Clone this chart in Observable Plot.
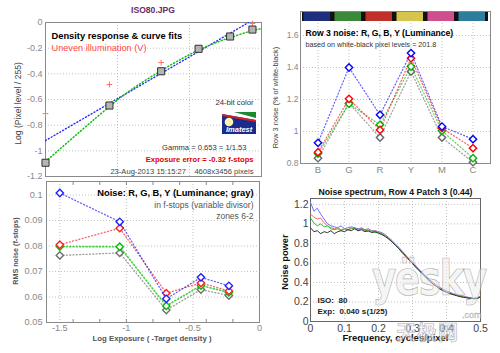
<!DOCTYPE html>
<html><head><meta charset="utf-8">
<script src="https://cdn.jsdelivr.net/npm/d3@7"></script>
<script src="https://cdn.jsdelivr.net/npm/@observablehq/plot@0.6"></script>
<style>
body{margin:0;background:#fff;font-family:"Liberation Sans",Arial,sans-serif;}
#root{position:relative;width:500px;height:353px;overflow:hidden;background:#fff;}
.abs{position:absolute;white-space:nowrap;}
</style></head><body><div id="root"></div>
<script>
// ---------- data ----------
// Density response (top-left)
const densX = [-1.5, -1.056, -0.697, -0.437, -0.218, -0.063];
const densY = [-1.093, -0.647, -0.38, -0.205, -0.109, -0.055];
const unevenX = [-1.5, -1.056, -0.697, -0.063];
const unevenY = [-0.71, -0.483, -0.312, -0.008];
const fitLinX = [-1.5, -0.09];
const fitLinY = [-0.92, 0];
const fitCurveX = [-1.5, -1.25, -1.056, -0.9, -0.697, -0.55, -0.437, -0.3, -0.218, -0.1, 0];
const fitCurveY = [-1.083, -0.84, -0.655, -0.52, -0.375, -0.28, -0.215, -0.15, -0.118, -0.075, -0.047];
const densTicksY = [-1.2, -1, -0.8, -0.6, -0.4, -0.2, 0];
const densGridX = [-1, -0.5];

// Row 3 noise (top-right)
const cats = ["B", "G", "R", "Y", "M", "C"];
const catColors = ["#1d2f7d", "#3b8a3b", "#c13129", "#d5c54d", "#cf4f8e", "#2d7d9d"];
const row3Blue  = [0.929, 1.40, 1.104, 1.49, 1.031, 0.952];
const row3Red   = [0.871, 1.204, 1.01, 1.458, 1.021, 0.896];
const row3Green = [0.862, 1.173, 1.042, 1.406, 1.004, 0.833];
const row3Gray  = [0.833, 1.177, 0.962, 1.375, 0.962, 0.808];
const row3Ticks = [0.8, 1, 1.2, 1.4, 1.6];

// RMS noise in f-stops (bottom-left)
const zoneX = [-1.5, -1.05, -0.70, -0.44, -0.23];
const rmsBlue  = [0.1008, 0.0895, 0.0593, 0.0677, 0.0644];
const rmsRed   = [0.0805, 0.0870, 0.0615, 0.0655, 0.0624];
const rmsGreen = [0.0798, 0.0797, 0.0565, 0.0645, 0.0618];
const rmsGray  = [0.0763, 0.0773, 0.0549, 0.0629, 0.0606];
const rmsTicksY = [0.05, 0.06, 0.07, 0.08, 0.09, 0.1];
const rmsTicksX = [-1.5, -1, -0.5, 0];
const rmsMinorX = [-1.4, -1.2, -1, -0.8, -0.6, -0.4, -0.2];

// Noise spectrum (bottom-right)
const freq = [0,0.01,0.02,0.03,0.04,0.05,0.06,0.07,0.08,0.09,
  0.10,0.11,0.12,0.13,0.14,0.15,0.16,0.17,0.18,0.19,
  0.20,0.21,0.22,0.23,0.24,0.25,0.26,0.27,0.28,0.29,
  0.30,0.31,0.32,0.33,0.34,0.35,0.36,0.37,0.38,0.39,
  0.40,0.41,0.42,0.43,0.44,0.45,0.46,0.47,0.48,0.49,0.50];
const specBlue = [1.22,1.13,1.16,1.10,1.05,1.00,0.98,0.97,0.96,0.98,
  0.95,0.96,0.97,0.96,0.95,0.96,0.94,0.95,0.93,0.93,
  0.92,0.91,0.89,0.86,0.83,0.79,0.76,0.72,0.68,0.64,
  0.61,0.57,0.53,0.50,0.46,0.43,0.40,0.375,0.35,0.33,
  0.315,0.30,0.285,0.275,0.265,0.26,0.25,0.245,0.24,0.245,0.26];
const specRed = [1.10,1.07,1.05,1.06,1.01,0.98,0.96,0.95,0.96,0.94,
  0.95,0.94,0.96,0.95,0.94,0.95,0.93,0.94,0.92,0.93,
  0.915,0.90,0.88,0.85,0.82,0.79,0.75,0.71,0.675,0.635,
  0.60,0.565,0.525,0.49,0.455,0.42,0.39,0.365,0.34,0.32,
  0.305,0.29,0.28,0.27,0.26,0.253,0.247,0.242,0.237,0.24,0.255];
const specGreen = [1.06,1.01,0.98,1.00,0.97,0.98,0.95,0.94,0.95,0.93,
  0.95,0.94,0.95,0.96,0.93,0.95,0.94,0.92,0.93,0.91,
  0.91,0.895,0.875,0.845,0.815,0.78,0.745,0.705,0.665,0.63,
  0.595,0.555,0.52,0.485,0.45,0.415,0.385,0.36,0.335,0.315,
  0.30,0.285,0.275,0.265,0.255,0.248,0.243,0.238,0.232,0.235,0.25];
const specBlack = [0.96,0.92,0.93,0.90,0.92,0.91,0.93,0.90,0.92,0.93,
  0.92,0.94,0.93,0.95,0.93,0.94,0.92,0.93,0.91,0.92,
  0.905,0.89,0.87,0.845,0.815,0.78,0.745,0.705,0.67,0.63,
  0.595,0.555,0.52,0.485,0.45,0.415,0.385,0.36,0.335,0.315,
  0.30,0.285,0.275,0.265,0.255,0.248,0.243,0.238,0.233,0.235,0.25];
const specTicksX = [0, 0.1, 0.2, 0.3, 0.4, 0.5];
const specTicksY = [0, 0.2, 0.4, 0.6, 0.8, 1, 1.2];

// ---------- helpers ----------
const root = document.getElementById("root");
const FONT = "'Liberation Sans', Arial, sans-serif";
const baseStyle = {fontFamily: FONT, fontSize: "8px", color: "#777", background: "transparent", overflow: "visible"};
const grid = {stroke: "#aaa", strokeOpacity: 0.7, strokeDasharray: "1,2"};
const frameColor = "#8a8a8a";
const DOT = "1,2.3";
const fmt = d => String(d);
const txt = (s, o) => Plot.text([s], {text: d => d, fontFamily: FONT, ...o});
const zip = (xs, ys) => xs.map((x, i) => ({x, y: ys[i]}));
function place(el, left, top) {
  el.style.position = "absolute"; el.style.left = left + "px"; el.style.top = top + "px";
  root.appendChild(el);
}

// ---------- panel 1: density response ----------
const p1 = Plot.plot({
  width: 270, height: 186, marginLeft: 45, marginRight: 9, marginTop: 22, marginBottom: 10,
  x: {domain: [-1.5, 0], axis: null},
  y: {domain: [-1.2, 0], axis: null},
  style: baseStyle,
  marks: [
    Plot.gridX(densGridX, grid),
    Plot.gridY(densTicksY, grid),
    Plot.frame({stroke: frameColor}),
    Plot.axisY(densTicksY, {anchor: "left", tickSize: 0, tickPadding: 3, tickFormat: fmt, fontSize: 9, fill: "#888", label: null}),
    Plot.line(zip(fitLinX, fitLinY), {x: "x", y: "y", stroke: "#2a2aff", strokeWidth: 1.4, strokeDasharray: DOT, clip: true}),
    Plot.line(zip(fitCurveX, fitCurveY), {x: "x", y: "y", curve: "natural", stroke: "#10c010", strokeWidth: 1.5, strokeDasharray: DOT, clip: true}),
    Plot.dot(zip(unevenX, unevenY), {x: "x", y: "y", symbol: "plus", r: 2, stroke: "#ff7070", strokeWidth: 1}),
    Plot.dot(zip(densX, densY), {x: "x", y: "y", symbol: "square", r: 4, fill: "#b4b4b4", stroke: "#333", strokeWidth: 1}),
    txt("Density response & curve fits", {frameAnchor: "top-left", dx: 6, dy: 10, textAnchor: "start", fontWeight: "bold", fontSize: 9.3, fill: "#000"}),
    txt("Uneven illumination (V)", {frameAnchor: "top-left", dx: 6, dy: 22, textAnchor: "start", fontSize: 9.2, fill: "#ff4a4a"}),
    txt("24-bit color", {frameAnchor: "top-right", dx: -8, dy: 77, textAnchor: "end", fontSize: 7.7, fill: "#333"}),
    txt("Gamma = 0.653 = 1/1.53", {frameAnchor: "top-right", dx: -15, dy: 122, textAnchor: "end", fontSize: 7.6, fill: "#333"}),
    txt("Exposure error = -0.32 f-stops", {frameAnchor: "top-right", dx: -8, dy: 134, textAnchor: "end", fontSize: 7.6, fontWeight: "bold", fill: "#e00000"}),
    txt("23-Aug-2013 15:15:27    4608x3456 pixels", {frameAnchor: "top-right", dx: -8, dy: 146, textAnchor: "end", fontSize: 7.6, fill: "#444", style: "white-space:pre"}),
    txt("Log (Pixel level / 255)", {frameAnchor: "left", dx: -27, dy: 4, rotate: -90, textAnchor: "middle", fontSize: 8.6, fill: "#444"})
  ]
});
place(p1, 0, 0);

// ---------- panel 2: row 3 noise ----------
const row3Series = [
  {v: row3Gray, c: "#666"}, {v: row3Green, c: "#00b400"}, {v: row3Red, c: "#ff0000"}, {v: row3Blue, c: "#0000ff"}
];
const y2Top = 1.75, barBottom = 1.6875;
const p2 = Plot.plot({
  width: 250, height: 180, marginLeft: 50, marginRight: 10, marginTop: 11, marginBottom: 17,
  x: {type: "band", domain: cats, padding: 0, axis: null},
  y: {domain: [0.8, y2Top], axis: null},
  color: {type: "identity"},
  style: baseStyle,
  marks: [
    Plot.gridY(row3Ticks, grid),
    Plot.gridX(cats, grid),
    Plot.barY(cats, {x: d => d, y1: barBottom, y2: y2Top, fill: "#111"}),
    Plot.barY(cats, {x: d => d, y1: barBottom, y2: y2Top, fill: (d, i) => catColors[i], insetLeft: 1.5, insetRight: 3}),
    Plot.frame({stroke: frameColor}),
    Plot.axisY(row3Ticks, {anchor: "left", tickSize: 0, tickPadding: 2, tickFormat: fmt, fontSize: 8.5, fill: "#888", label: null}),
    Plot.axisX(cats, {anchor: "bottom", tickSize: 0, tickPadding: 3, fontSize: 9.5, fill: "#888", label: null}),
    ...row3Series.flatMap(s => {
      const d = cats.map((c, i) => ({x: c, y: s.v[i]}));
      return [
        Plot.line(d, {x: "x", y: "y", stroke: s.c, strokeOpacity: 0.6, strokeWidth: 1.3, strokeDasharray: DOT}),
        Plot.dot(d, {x: "x", y: "y", symbol: "diamond2", r: 3.3, stroke: s.c, strokeWidth: 1.4, fill: "white"})
      ];
    }),
    txt("Row 3 noise: R, G, B, Y (Luminance)", {frameAnchor: "top-left", dx: 5, dy: 18, textAnchor: "start", fontWeight: "bold", fontSize: 8.6, fill: "#000"}),
    txt("based on white-black pixel levels = 201.8", {frameAnchor: "top-left", dx: 5, dy: 30, textAnchor: "start", fontSize: 7.2, fill: "#333"}),
    txt("Row 3 noise (% of white-black)", {frameAnchor: "left", dx: -25, dy: 10, rotate: -90, textAnchor: "middle", fontSize: 7.4, fill: "#444"})
  ]
});
place(p2, 250, 0);

// ---------- panel 3: RMS noise ----------
const rmsSeries = [
  {v: rmsGray, c: "#707070", w: 1.3}, {v: rmsGreen, c: "#00c000", w: 1.7}, {v: rmsRed, c: "#ff2020", w: 1.3}, {v: rmsBlue, c: "#2020ff", w: 1.3}
];
const p3 = Plot.plot({
  width: 270, height: 177, marginLeft: 46, marginRight: 11, marginTop: 5, marginBottom: 31,
  x: {domain: [-1.6, 0], axis: null},
  y: {domain: [0.05, 0.1053], axis: null},
  style: baseStyle,
  marks: [
    Plot.gridX([-1.5, -1, -0.5], grid),
    Plot.gridY(rmsTicksY, grid),
    Plot.frame({stroke: frameColor}),
    Plot.axisY(rmsTicksY, {anchor: "left", tickSize: 0, tickPadding: 4, tickFormat: fmt, fontSize: 9.2, fill: "#888", label: null}),
    Plot.axisX(rmsTicksX, {anchor: "bottom", tickSize: 0, tickPadding: 2, tickFormat: fmt, fontSize: 9.2, fill: "#888", label: null}),
    Plot.axisX(rmsMinorX, {anchor: "bottom", tickSize: -3, tickFormat: () => "", stroke: "#888", label: null}),
    Plot.axisX(rmsMinorX, {anchor: "top", tickSize: -3, tickFormat: () => "", stroke: "#888", label: null}),
    ...rmsSeries.flatMap(s => {
      const d = zip(zoneX, s.v);
      return [
        Plot.line(d, {x: "x", y: "y", stroke: s.c, strokeOpacity: 0.7, strokeWidth: s.w, strokeDasharray: DOT}),
        Plot.dot(d, {x: "x", y: "y", symbol: "diamond2", r: 3.3, stroke: s.c, strokeWidth: 1.4, fill: "white"})
      ];
    }),
    txt("Noise: R, G, B, Y (Luminance; gray)", {frameAnchor: "top-right", dx: -6, dy: 8, textAnchor: "end", fontWeight: "bold", fontSize: 9.3, fill: "#000"}),
    txt("in f-stops (variable divisor)", {frameAnchor: "top-right", dx: -6, dy: 20, textAnchor: "end", fontSize: 8.5, fill: "#555"}),
    txt("zones 6-2", {frameAnchor: "top-right", dx: -6, dy: 31, textAnchor: "end", fontSize: 8.5, fill: "#555"}),
    txt("RMS noise (f-stops)", {frameAnchor: "left", dx: -31, dy: -1, rotate: -90, textAnchor: "middle", fontSize: 7.2, fontWeight: "bold", fill: "#555"}),
    txt("Log Exposure ( -Target density )", {frameAnchor: "bottom", dx: -1, dy: 18, textAnchor: "middle", fontSize: 7.8, fontWeight: "bold", fill: "#555"})
  ]
});
place(p3, 0, 176);

// ---------- panel 4: noise spectrum ----------
const specSeries = [
  {v: specBlue, c: "#6f6fff"}, {v: specRed, c: "#ff6a6a"}, {v: specGreen, c: "#22cc22"}, {v: specBlack, c: "#333"}
];
const p4 = Plot.plot({
  width: 250, height: 177, marginLeft: 60, marginRight: 20, marginTop: 22, marginBottom: 32,
  x: {domain: [0, 0.5], axis: null},
  y: {domain: [0, 1.26], axis: null},
  style: baseStyle,
  marks: [
    Plot.gridX(specTicksX, grid),
    Plot.gridY(specTicksY, grid),
    Plot.frame({stroke: "#666"}),
    Plot.axisY(specTicksY, {anchor: "left", tickSize: 0, tickPadding: 2, tickFormat: fmt, fontSize: 10.5, fill: "#444", label: null}),
    Plot.axisX(specTicksX, {anchor: "bottom", tickSize: 0, tickPadding: 3, tickFormat: fmt, fontSize: 10.5, fill: "#444", label: null}),
    ...specSeries.map(s => Plot.line(zip(freq, s.v), {x: "x", y: "y", stroke: s.c, strokeWidth: 1})),
    txt("Noise spectrum, Row 4 Patch 3 (0.44)", {frameAnchor: "top", dy: -10, textAnchor: "middle", fontWeight: "bold", fontSize: 8.7, fill: "#111"}),
    txt("Noise power", {frameAnchor: "left", dx: -25, dy: 2, rotate: -90, textAnchor: "middle", fontWeight: "bold", fontSize: 9.3, fill: "#111"}),
    txt("Frequency, cycles/pixel", {frameAnchor: "bottom", dy: 19, textAnchor: "middle", fontWeight: "bold", fontSize: 9.5, fill: "#111"}),
    txt("ISO:", {frameAnchor: "bottom-left", dx: 7, dy: -19, textAnchor: "start", fontWeight: "bold", fontSize: 8, fill: "#222"}),
    txt("80", {frameAnchor: "bottom-left", dx: 28, dy: -19, textAnchor: "start", fontWeight: "bold", fontSize: 8, fill: "#222"}),
    txt("Exp:", {frameAnchor: "bottom-left", dx: 7, dy: -8, textAnchor: "start", fontWeight: "bold", fontSize: 8, fill: "#222"}),
    txt("0.040 s", {frameAnchor: "bottom-left", dx: 29, dy: -8, textAnchor: "start", fontWeight: "bold", fontSize: 8, fill: "#222"}),
    txt("(1/25)", {frameAnchor: "bottom-left", dx: 56, dy: -8, textAnchor: "start", fontWeight: "bold", fontSize: 8, fill: "#222"})
  ]
});
place(p4, 250, 176);

// ---------- title, logo, watermark ----------
const title = document.createElement("div");
title.className = "abs";
title.textContent = "ISO80.JPG";
title.style.cssText = "position:absolute;left:103px;top:5px;width:100px;text-align:center;font:bold 8.6px 'Liberation Sans',Arial,sans-serif;color:#6a2a6a;";
root.appendChild(title);

const logo = document.createElement("div");
logo.className = "abs";
logo.style.left = "222px"; logo.style.top = "112px";
logo.innerHTML = `<svg width="34" height="22" viewBox="0 0 34 22">
<rect width="34" height="22" fill="#1c2a8c"/>
<polygon points="12,0 34,0 34,6" fill="#1c8a2a"/>
<polygon points="0,0 12,0 34,6 34,8 0,2" fill="#ffffff"/>
<polygon points="0,2 34,8 34,10 0,4" fill="#d42020"/>
<circle cx="7" cy="10" r="4.3" fill="#fbf5b0"/>
<text x="4" y="20" fill="#fff" font-family="Liberation Sans, Arial" font-size="7.5" font-style="italic" font-weight="bold">Imatest</text>
</svg>`;
root.appendChild(logo);

const wm = document.createElement("div");
wm.className = "abs";
wm.style.cssText = "position:absolute;left:372px;top:254px;font:bold 48px 'DejaVu Sans',sans-serif;line-height:1;color:rgba(236,236,236,0.5);-webkit-text-stroke:0.7px rgba(150,150,150,0.75);letter-spacing:-2px;transform:scaleX(0.78);transform-origin:0 0;pointer-events:none;";
wm.textContent = "yësky";
root.appendChild(wm);
const wm2 = document.createElement("div");
wm2.className = "abs";
wm2.style.cssText = "position:absolute;left:462px;top:310px;font:9px 'Liberation Sans',sans-serif;color:rgba(236,236,236,0.6);-webkit-text-stroke:0.4px rgba(150,150,150,0.8);";
wm2.textContent = ".com";
root.appendChild(wm2);
const wm3 = document.createElement("div");
wm3.className = "abs";
wm3.style.cssText = "position:absolute;left:396px;top:320px;font:bold 20px 'Noto Sans CJK SC',sans-serif;line-height:1.2;color:rgba(236,236,236,0.5);-webkit-text-stroke:0.6px rgba(150,150,150,0.75);letter-spacing:1px;";
wm3.textContent = "天极网";
root.appendChild(wm3);
</script></body></html>
